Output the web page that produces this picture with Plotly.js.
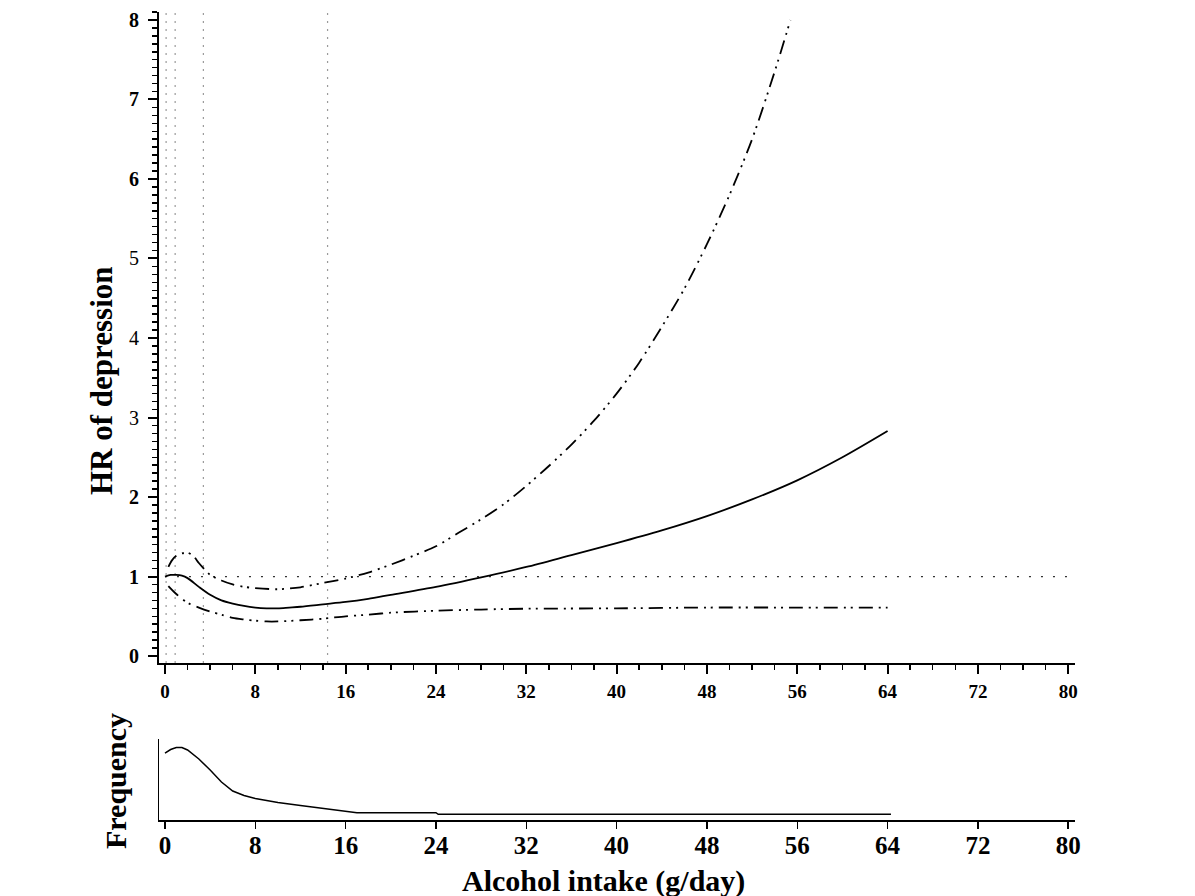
<!DOCTYPE html>
<html>
<head>
<meta charset="utf-8">
<script src="https://cdn.plot.ly/plotly-3.0.1.min.js"></script>
<style>html,body{margin:0;padding:0;background:#fff;} #chart{width:1195px;height:896px;}</style>
</head>
<body>
<div id="chart"></div>
<script>
// ---- data ----
const hrX = [0, 0.5, 1, 1.5, 2, 3, 4, 5, 6, 7, 8, 9, 10, 11, 12, 14, 16, 18, 20, 24, 28, 32, 36, 40, 44, 48, 52, 56, 60, 64];
const hrY = [1.00, 1.02, 1.02, 1.01, 0.98, 0.87, 0.77, 0.70, 0.66, 0.63, 0.61, 0.60, 0.60, 0.61, 0.62, 0.65, 0.68, 0.72, 0.77, 0.87, 0.99, 1.12, 1.27, 1.42, 1.58, 1.76, 1.97, 2.21, 2.50, 2.83];

const upX = [0.3, 0.6, 1, 1.5, 2, 2.5, 3, 3.5, 4, 5, 6, 7, 8, 10, 12, 14, 16, 18, 20, 22, 24, 26, 28, 30, 32, 34, 36, 38, 40, 42, 44, 46, 48, 50, 52, 54, 55.4];
const upY = [1.12, 1.20, 1.26, 1.29, 1.30, 1.26, 1.17, 1.09, 1.02, 0.95, 0.90, 0.87, 0.855, 0.84, 0.865, 0.92, 0.975, 1.05, 1.15, 1.26, 1.38, 1.55, 1.72, 1.91, 2.14, 2.39, 2.66, 2.96, 3.30, 3.69, 4.14, 4.62, 5.18, 5.80, 6.50, 7.35, 8.00];

const loX = [0.3, 1, 2, 3, 4, 5, 6, 7, 8, 9, 10, 12, 14, 16, 18, 20, 24, 28, 32, 40, 48, 56, 64];
const loY = [0.88, 0.78, 0.67, 0.61, 0.56, 0.52, 0.48, 0.46, 0.445, 0.435, 0.435, 0.45, 0.47, 0.50, 0.52, 0.545, 0.57, 0.585, 0.595, 0.60, 0.61, 0.61, 0.61];

const knots = [0.1, 0.9, 3.4, 14.4];
const refHR = 1;

const freqX = [0, 0.5, 1, 1.5, 2, 3, 4, 5, 6, 7, 8, 10, 12, 14, 16, 17, 24, 24.2, 64.3];
const freqY = [67, 70.5, 72.5, 72.5, 70, 61, 50, 38, 29, 24.5, 21.5, 17.5, 14.5, 11.5, 9, 7.3, 7.3, 5.7, 5.7];

const xTicks = [0, 8, 16, 24, 32, 40, 48, 56, 64, 72, 80];
const yTicks = [0, 1, 2, 3, 4, 5, 6, 7, 8];
const yTickText = ['<b>0</b>', '<b>1</b>', '<b>2</b>', '3', '4', '5', '<b>6</b>', '<b>7</b>', '<b>8</b>'];

const yTitle = 'HR of depression';
const y2Title = 'Frequency';
const xTitle = 'Alcohol intake (g/day)';

// ---- styling ----
const FONT = 'Liberation Serif, Times New Roman, serif';
const ciDash = '14px,6px,2px,5px,2px,6px';

const traces = [
  {x: hrX, y: hrY, mode: 'lines', line: {color: '#000', width: 1.8, shape: 'spline', smoothing: 0.8}, xaxis: 'x', yaxis: 'y', hoverinfo: 'skip'},
  {x: upX, y: upY, mode: 'lines', line: {color: '#000', width: 1.8, shape: 'spline', smoothing: 0.8, dash: ciDash}, xaxis: 'x', yaxis: 'y', hoverinfo: 'skip'},
  {x: loX, y: loY, mode: 'lines', line: {color: '#000', width: 1.8, shape: 'spline', smoothing: 0.8, dash: ciDash}, xaxis: 'x', yaxis: 'y', hoverinfo: 'skip'},
  {x: freqX, y: freqY, mode: 'lines', line: {color: '#000', width: 1.5}, xaxis: 'x2', yaxis: 'y2', hoverinfo: 'skip'}
];

const shapes = knots.map(k => ({
  type: 'line', xref: 'x', yref: 'y domain', x0: k, x1: k, y0: 0, y1: 1,
  line: {color: '#9a9a9a', width: 1.2, dash: '2px,6px'}, layer: 'below'
}));
shapes.push({
  type: 'line', xref: 'x', yref: 'y', x0: 0, x1: 80.6, y0: refHR, y1: refHR,
  line: {color: '#333', width: 1.3, dash: '2px,10px'}, layer: 'below'
});

const titleFont = (s) => ({family: FONT, size: s, weight: 'bold', color: '#000'});
const annotations = [
  {text: yTitle, xref: 'paper', yref: 'paper', x: 101/1195, y: (896-381)/896, textangle: -90,
   xanchor: 'center', yanchor: 'middle', showarrow: false, font: titleFont(31)},
  {text: y2Title, xref: 'paper', yref: 'paper', x: 115/1195, y: (896-781)/896, textangle: -90,
   xanchor: 'center', yanchor: 'middle', showarrow: false, font: titleFont(30)},
  {text: xTitle, xref: 'paper', yref: 'paper', x: 603/1195, y: (896-881)/896,
   xanchor: 'center', yanchor: 'middle', showarrow: false, font: titleFont(30)}
];

const xDom = [159/1195, 1075/1195];
const xRange = [-0.53, 80.6];

const layout = {
  width: 1195, height: 896,
  margin: {l: 0, r: 0, t: 0, b: 0},
  paper_bgcolor: '#fff', plot_bgcolor: '#fff',
  showlegend: false,
  font: {family: FONT, color: '#000'},
  xaxis: {
    domain: xDom, range: xRange, anchor: 'y',
    showline: true, linecolor: '#000', linewidth: 2,
    showgrid: false, zeroline: false,
    tickmode: 'array', tickvals: xTicks,
    ticks: 'outside', ticklen: 9, tickwidth: 2, tickcolor: '#000',
    minor: {dtick: 2, tick0: 0, ticks: 'outside', ticklen: 5, tickwidth: 1.5, tickcolor: '#000', showgrid: false},
    tickfont: {family: FONT, size: 19, weight: 'bold', color: '#000'},
    ticklabelstandoff: 1
  },
  yaxis: {
    domain: [0.2600, 0.9866], range: [-0.088, 8.10], anchor: 'x',
    showline: true, linecolor: '#000', linewidth: 2,
    showgrid: false, zeroline: false,
    tickmode: 'array', tickvals: yTicks, ticktext: yTickText,
    ticks: 'outside', ticklen: 9, tickwidth: 2, tickcolor: '#000',
    minor: {dtick: 0.1, tick0: 0, ticks: 'outside', ticklen: 5, tickwidth: 1.5, tickcolor: '#000', showgrid: false},
    tickfont: {family: FONT, size: 20, color: '#000'},
    ticklabelstandoff: 5
  },
  xaxis2: {
    domain: xDom, range: xRange, anchor: 'y2',
    showline: true, linecolor: '#000', linewidth: 2,
    showgrid: false, zeroline: false,
    tickmode: 'array', tickvals: xTicks,
    ticks: 'outside', ticklen: 7, tickwidth: 1.5, tickcolor: '#000',
    tickfont: {family: FONT, size: 25, weight: 'bold', color: '#000'},
    ticklabelstandoff: -5
  },
  yaxis2: {
    domain: [0.0848, 0.1752], range: [0, 81], anchor: 'x2',
    showline: true, linecolor: '#000', linewidth: 1.5,
    showgrid: false, zeroline: false,
    showticklabels: false, ticks: ''
  },
  shapes: shapes,
  annotations: annotations
};

Plotly.newPlot('chart', traces, layout, {staticPlot: true, displayModeBar: false});
</script>
</body>
</html>
